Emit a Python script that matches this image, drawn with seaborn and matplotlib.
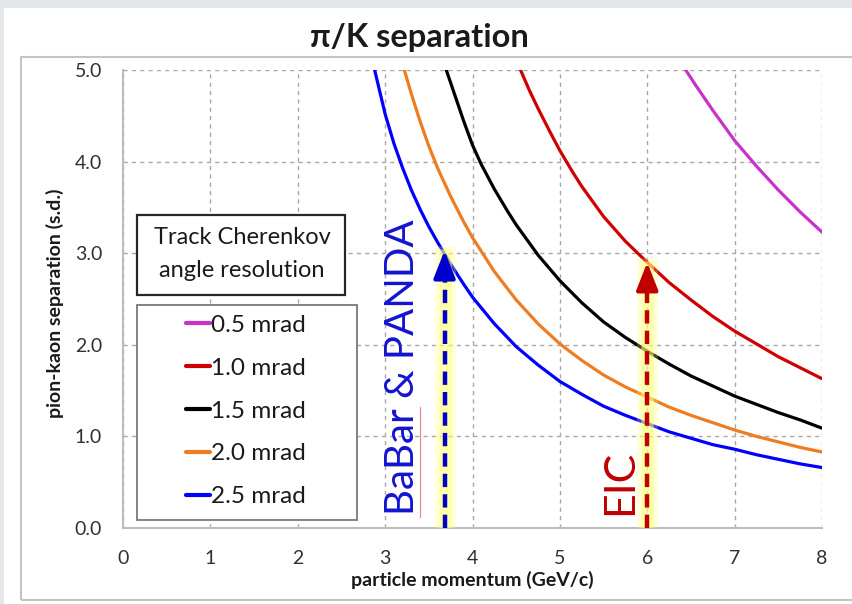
import matplotlib
matplotlib.use("Agg")
import matplotlib.pyplot as plt
from matplotlib.lines import Line2D
from matplotlib.patches import Rectangle
import pandas as pd
import seaborn as sns

# pion-kaon separation (s.d.) vs. momentum (GeV/c) for each Cherenkov angle resolution
res_labels = ["0.5 mrad", "1.0 mrad", "1.5 mrad", "2.0 mrad", "2.5 mrad"]
res_colors = ["#c832c8", "#d00000", "#000000", "#ee7d22", "#0000ff"]

p_05 = [6.44, 6.55, 6.75, 7.0, 7.25, 7.5, 7.75, 8.0]
s_05 = [5.00, 4.84, 4.56, 4.23, 3.95, 3.69, 3.45, 3.23]

p_10 = [4.55, 4.65, 4.75, 4.9, 5.0, 5.15, 5.25, 5.5, 5.75, 6.0, 6.25, 6.5, 6.75,
        7.0, 7.25, 7.5, 7.75, 8.0]
s_10 = [5.00, 4.78, 4.58, 4.30, 4.12, 3.88, 3.73, 3.40, 3.13, 2.90, 2.68, 2.49, 2.31,
        2.15, 2.01, 1.87, 1.75, 1.63]

p_15 = [3.70, 3.8, 3.9, 4.0, 4.1, 4.25, 4.4, 4.5, 4.75, 5.0, 5.25, 5.5, 5.75, 6.0,
        6.25, 6.5, 6.75, 7.0, 7.25, 7.5, 7.75, 8.0]
s_15 = [5.00, 4.72, 4.44, 4.18, 3.97, 3.70, 3.46, 3.31, 2.98, 2.70, 2.46, 2.25, 2.08, 1.93,
        1.79, 1.66, 1.55, 1.44, 1.35, 1.26, 1.18, 1.09]

p_20 = [3.22, 3.3, 3.4, 3.5, 3.6, 3.75, 3.9, 4.0, 4.25, 4.5, 4.75, 5.0, 5.25, 5.5, 5.75,
        6.0, 6.25, 6.5, 6.75, 7.0, 7.25, 7.5, 7.75, 8.0]
s_20 = [5.00, 4.74, 4.44, 4.17, 3.93, 3.62, 3.34, 3.17, 2.80, 2.49, 2.23, 2.01, 1.83, 1.67, 1.54,
        1.43, 1.32, 1.23, 1.15, 1.07, 1.00, 0.94, 0.88, 0.83]

p_25 = [2.88, 2.95, 3.0, 3.1, 3.2, 3.3, 3.4, 3.5, 3.6, 3.75, 3.9, 4.0, 4.25, 4.5, 4.75,
        5.0, 5.25, 5.5, 5.75, 6.0, 6.25, 6.5, 6.75, 7.0, 7.25, 7.5, 7.75, 8.0]
s_25 = [5.00, 4.72, 4.52, 4.20, 3.93, 3.69, 3.48, 3.29, 3.12, 2.88, 2.66, 2.52, 2.23, 1.98, 1.78,
        1.60, 1.46, 1.33, 1.23, 1.14, 1.05, 0.98, 0.91, 0.86, 0.80, 0.75, 0.70, 0.66]

# experiment markers: momentum reach and separation reached there
babar_p, babar_sep = 3.68, 3.03
eic_p, eic_sep = 6.0, 2.90

x_ticks = [0, 1, 2, 3, 4, 5, 6, 7, 8]
y_ticks = [0.0, 1.0, 2.0, 3.0, 4.0, 5.0]

series = [(p_05, s_05), (p_10, s_10), (p_15, s_15), (p_20, s_20), (p_25, s_25)]
df = pd.concat(
    [pd.DataFrame({"p": p, "sep": s, "res": lab}) for (p, s), lab in zip(series, res_labels)],
    ignore_index=True,
)

sns.set_theme(style="white")
plt.rcParams["font.family"] = ["Lato", "Open Sans", "DejaVu Sans"]

W, H = 852, 604
fig = plt.figure(figsize=(W / 100, H / 100), dpi=100)
fig.patch.set_facecolor("white")

# page background strips and chart frame
fig.patches.append(Rectangle((0, 1 - 8 / H), 1, 8 / H, transform=fig.transFigure,
                             facecolor="#e3e7e9", edgecolor="none", zorder=0))
fig.patches.append(Rectangle((0, 0), 4 / W, 1, transform=fig.transFigure,
                             facecolor="#e3e7e9", edgecolor="none", zorder=0))
fig.patches.append(Rectangle((21 / W, 1 - 600 / H), 1.0, (600 - 57) / H, transform=fig.transFigure,
                             facecolor="none", edgecolor="#c4c4c4", lw=1.5, zorder=0))

ax = fig.add_axes([123 / W, 1 - 528 / H, (822 - 123) / W, (528 - 70) / H])
ax.set_facecolor("none")

sns.lineplot(data=df, x="p", y="sep", hue="res", hue_order=res_labels,
             palette=dict(zip(res_labels, res_colors)), sort=False, estimator=None,
             lw=2.3, legend=False, ax=ax, zorder=3)

ax.set_xlim(0, 8)
ax.set_ylim(0, 5)
ax.set_xticks(x_ticks)
ax.set_yticks(y_ticks)
ax.set_xticklabels([str(v) for v in x_ticks])
ax.set_yticklabels([f"{v:.1f}" for v in y_ticks])
ax.grid(True, color="#a8a8a8", linestyle=(0, (3, 3)), lw=1.0, zorder=0)
for side in ("top", "right"):
    ax.spines[side].set_visible(False)
for side in ("left", "bottom"):
    ax.spines[side].set_color("#bdbdbd")
    ax.spines[side].set_linewidth(1.5)
ax.tick_params(axis="both", direction="inout", length=10, width=1, color="#bdbdbd",
               labelsize=14, labelcolor="#303030")
ax.tick_params(axis="y", pad=10)
ax.tick_params(axis="x", pad=11)
ax.set_xlabel("particle momentum (GeV/c)", fontsize=14, fontweight="bold", color="#1a1a1a")
ax.set_ylabel("pion-kaon separation (s.d.)", fontsize=14, fontweight="bold", color="#1a1a1a")
ax.xaxis.set_label_coords(0.5, -0.093)
ax.yaxis.set_label_coords(-0.085, 0.49)

fig.text(419 / W, 1 - 37 / H, "π/K separation", ha="center", va="center",
         fontsize=23.5, fontweight="bold", color="#1a1a1a")


def draw_arrow(x, tip, color):
    # soft yellow highlight behind the arrow
    ax.plot([x, x], [0, tip + 0.05], color="#ffff66", lw=15, alpha=0.25,
            solid_capstyle="butt", zorder=4)
    ax.plot([x, x], [0, tip + 0.02], color="#ffff80", lw=9, alpha=0.55,
            solid_capstyle="butt", zorder=4)
    ax.plot([x, x], [0, tip - 0.2], color=color, lw=3.2, linestyle=(0, (3, 1.6)),
            dash_capstyle="butt", zorder=5)
    ax.annotate("", xy=(x, tip), xytext=(x, tip - 0.24),
                arrowprops=dict(arrowstyle="-|>,head_length=1.4,head_width=0.55",
                                color=color, lw=3, shrinkA=0, shrinkB=0),
                zorder=6)


draw_arrow(babar_p, babar_sep, "#0000cc")
draw_arrow(eic_p, eic_sep, "#c00000")

ax.text(3.2, 0.14, "BaBar & PANDA", rotation=90, ha="center", va="bottom",
        fontsize=29, color="#1414d0", zorder=6)
# spell-check underline beside "BaBar"
ax.plot([3.40, 3.40], [0.12, 1.32], color="#e07070", lw=0.9, alpha=0.8, zorder=6)
ax.text(5.69, 0.14, "EIC", rotation=90, ha="center", va="bottom",
        fontsize=31, color="#c00000", zorder=6)


def px_to_axes(px, py):
    return (px - 123) / (822 - 123), (528 - py) / (528 - 70)


# legend title box
x0, y0 = px_to_axes(137, 295)
x1, y1 = px_to_axes(345, 215)
ax.add_patch(Rectangle((x0, y0), x1 - x0, y1 - y0, transform=ax.transAxes,
                       facecolor="white", edgecolor="#262626", lw=1.6, zorder=7))
tx, ty = px_to_axes(242, 254)
ax.text(tx, ty, "Track Cherenkov\nangle resolution", transform=ax.transAxes,
        ha="center", va="center", fontsize=17, color="#1a1a1a", linespacing=1.65, zorder=8)

# legend entries box
x0, y0 = px_to_axes(137, 520)
x1, y1 = px_to_axes(357, 305)
ax.add_patch(Rectangle((x0, y0), x1 - x0, y1 - y0, transform=ax.transAxes,
                       facecolor="white", edgecolor="#7a7a7a", lw=1.3, zorder=7))
handles = [Line2D([], [], color=c, lw=3) for c in res_colors]
lx, ly = px_to_axes(246, 411)
leg = ax.legend(handles, res_labels, loc="center", bbox_to_anchor=(lx, ly),
                frameon=False, fontsize=17.5, handlelength=1.0, handletextpad=0.05,
                labelspacing=0.9, borderpad=0.2)
leg.set_zorder(9)
for t in leg.get_texts():
    t.set_color("#1a1a1a")

fig.savefig("out.png", dpi=100, facecolor=fig.get_facecolor())
